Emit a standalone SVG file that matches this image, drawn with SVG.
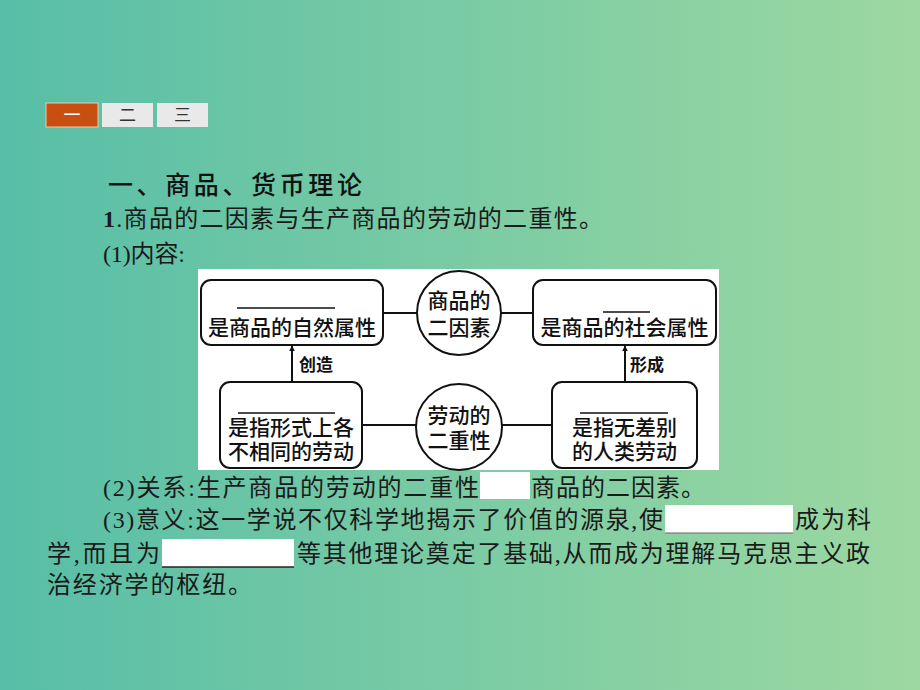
<svg xmlns="http://www.w3.org/2000/svg" width="920" height="690" viewBox="0 0 920 690">
<defs>
<linearGradient id="bg" x1="0" y1="0" x2="1" y2="0">
<stop offset="0" stop-color="#57bea7"/>
<stop offset="1" stop-color="#9dd8a1"/>
</linearGradient>
<marker id="ah" viewBox="0 0 10 10" refX="9" refY="5" markerWidth="6" markerHeight="7" orient="auto" markerUnits="userSpaceOnUse">
<path d="M0,0 L10,5 L0,10 z" fill="#111"/>
</marker>
<style>
.t{font-family:"Liberation Serif","Noto Sans CJK SC",serif;font-size:24px;fill:#1a1a1a}
.h{font-family:"Noto Sans CJK SC",sans-serif;font-size:25px;font-weight:500;fill:#111}
.n{font-family:"Liberation Sans","Noto Sans CJK SC",sans-serif;font-size:21px;font-weight:500;fill:#111;text-anchor:middle}
.lb{font-family:"Noto Sans CJK SC",sans-serif;font-size:17px;font-weight:700;fill:#111}
.box{fill:#fff;stroke:#111;stroke-width:2}
.ol{stroke:#111;stroke-width:1.5}
.c{stroke:#111;stroke-width:2;fill:none}
.tab{font-family:"Noto Sans CJK SC",sans-serif;font-size:17px;text-anchor:middle}
.blank{fill:#fff}
</style>
</defs>
<rect width="920" height="690" fill="url(#bg)"/>
<g id="tabs">
<rect x="46" y="103" width="52" height="24" fill="#c84f10" stroke="#e8c9b0" stroke-width="1"/>
<text class="tab" x="72" y="121" fill="#fff">一</text>
<rect x="102" y="103" width="51" height="24" fill="#e9e9e9"/>
<text class="tab" x="127.5" y="121" fill="#333">二</text>
<rect x="157" y="103" width="51" height="24" fill="#e9e9e9"/>
<text class="tab" x="182.5" y="121" fill="#333">三</text>
</g>
<text class="h" x="108" y="194" textLength="254" lengthAdjust="spacing">一、商品、货币理论</text>
<text class="t" x="103" y="227" textLength="500" lengthAdjust="spacing"><tspan font-weight="bold">1</tspan>.商品的二因素与生产商品的劳动的二重性。</text>
<text class="t" x="103" y="262" textLength="82" lengthAdjust="spacing">(1)内容:</text>
<rect x="198" y="269" width="521" height="201" fill="#fff"/>
<g id="connectors">
<line class="c" x1="383" y1="313" x2="417" y2="313"/>
<line class="c" x1="501" y1="313" x2="533" y2="313"/>
<line class="c" x1="362" y1="425" x2="416" y2="425"/>
<line class="c" x1="502" y1="425" x2="552" y2="425"/>
<line class="c" x1="292" y1="382" x2="292" y2="346" marker-end="url(#ah)"/>
<line class="c" x1="625" y1="382" x2="625" y2="346" marker-end="url(#ah)"/>
<text class="lb" x="299" y="371">创造</text>
<text class="lb" x="630" y="371">形成</text>
</g>
<g id="node-ziran">
<rect class="box" x="201" y="280" width="182" height="65" rx="10"/>
<line class="ol" x1="237" y1="308" x2="335" y2="308"/>
<text class="n" x="292" y="335">是商品的自然属性</text>
</g>
<g id="node-yinsu">
<circle class="box" cx="459" cy="313" r="42"/>
<text class="n" x="459" y="308">商品的<tspan x="459" dy="27">二因素</tspan></text>
</g>
<g id="node-shehui">
<rect class="box" x="533" y="280" width="183" height="65" rx="10"/>
<line class="ol" x1="603" y1="312" x2="650" y2="312"/>
<text class="n" x="624.5" y="335">是商品的社会属性</text>
</g>
<g id="node-juti">
<rect class="box" x="220" y="382" width="142" height="86" rx="10"/>
<line class="ol" x1="238" y1="413" x2="335" y2="413"/>
<text class="n" x="291" y="435">是指形式上各<tspan x="291" dy="24">不相同的劳动</tspan></text>
</g>
<g id="node-chongxing">
<circle class="box" cx="459" cy="427" r="43"/>
<text class="n" x="459" y="423">劳动的<tspan x="459" dy="25">二重性</tspan></text>
</g>
<g id="node-chouxiang">
<rect class="box" x="552" y="382" width="145" height="86" rx="10"/>
<line class="ol" x1="580" y1="413" x2="668" y2="413"/>
<text class="n" x="624.5" y="435">是指无差别<tspan x="624.5" dy="24">的人类劳动</tspan></text>
</g>
<rect class="blank" x="480" y="472" width="50" height="27"/>
<rect class="blank" x="665" y="505" width="128" height="28"/>
<line x1="665" y1="533" x2="793" y2="533" stroke="#666" stroke-width="1"/>
<rect class="blank" x="162" y="539" width="132" height="28"/>
<line x1="162" y1="567" x2="294" y2="567" stroke="#222" stroke-width="1.5"/>
<text class="t" x="103" y="496" textLength="376" lengthAdjust="spacing">(2)关系:生产商品的劳动的二重性</text>
<text class="t" x="531" y="496" textLength="174" lengthAdjust="spacing">商品的二因素。</text>
<text class="t" x="103" y="528" textLength="560" lengthAdjust="spacing">(3)意义:这一学说不仅科学地揭示了价值的源泉,使</text>
<text class="t" x="795" y="528" textLength="76" lengthAdjust="spacing">成为科</text>
<text class="t" x="47" y="562" textLength="113" lengthAdjust="spacing">学,而且为</text>
<text class="t" x="297" y="562" textLength="573" lengthAdjust="spacing">等其他理论奠定了基础,从而成为理解马克思主义政</text>
<text class="t" x="47" y="593" textLength="205" lengthAdjust="spacing">治经济学的枢纽。</text>
</svg>
